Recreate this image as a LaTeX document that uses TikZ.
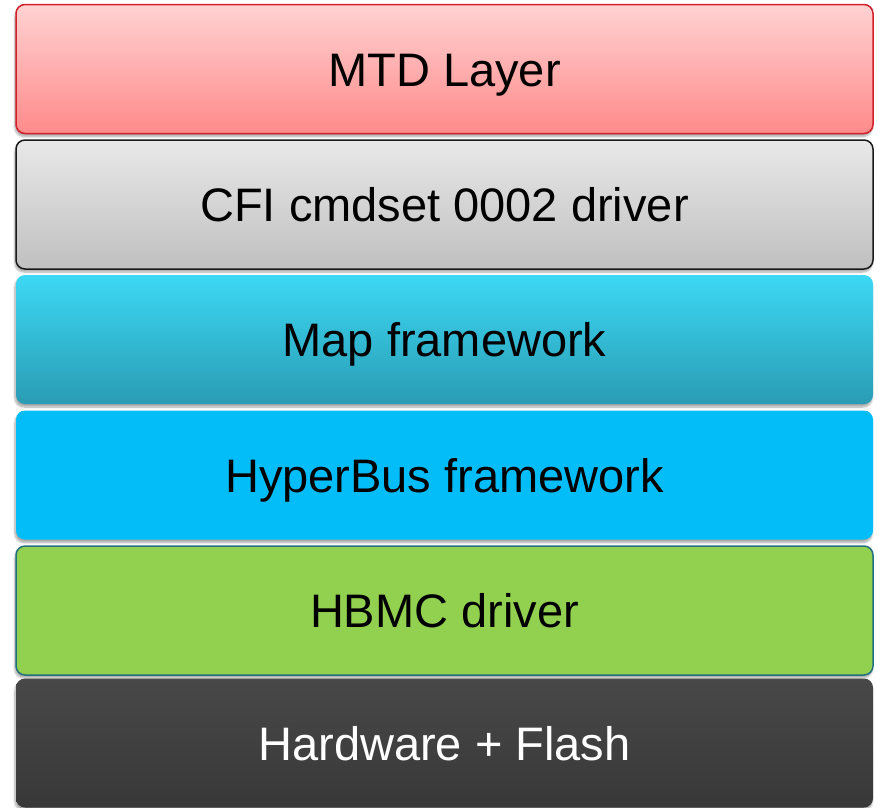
\documentclass[tikz,border=0pt]{standalone}
\usepackage{fontspec}
\setmainfont{Liberation Sans}
\usetikzlibrary{shadows.blur}
\definecolor{redTop}{HTML}{FFD2D2}
\definecolor{redBot}{HTML}{FF8A8A}
\definecolor{redLine}{HTML}{D0202A}
\definecolor{grayTop}{HTML}{E8E8E8}
\definecolor{grayBot}{HTML}{C0C0C0}
\definecolor{grayLine}{HTML}{1A1A1A}
\definecolor{cyanTop}{HTML}{3CD8F4}
\definecolor{cyanBot}{HTML}{2A9CB4}
\definecolor{blueFill}{HTML}{03BDF9}
\definecolor{greenFill}{HTML}{92D050}
\definecolor{greenLine}{HTML}{22707E}
\definecolor{darkTop}{HTML}{484848}
\definecolor{darkBot}{HTML}{383838}
\begin{document}
\begin{tikzpicture}[x=1pt,y=-1pt,
  layer/.style={rectangle, rounded corners=9pt, minimum width=857pt, minimum height=129pt,
    inner sep=0pt, text height=34pt, text depth=0pt,
    font=\fontsize{47}{52}\selectfont,
    blur shadow={shadow xshift=-1pt, shadow yshift=-3pt, shadow blur steps=6, shadow opacity=35}},
]
\useasboundingbox (0,0) rectangle (877,807);
\node[layer, top color=redTop, bottom color=redBot, draw=redLine, line width=1.5pt] (mtd) at (444.5,69) {MTD Layer};
\node[layer, top color=grayTop, bottom color=grayBot, draw=grayLine, line width=1.5pt] (cfi) at (444.5,204.5) {CFI cmdset 0002 driver};
\node[layer, top color=cyanTop, bottom color=cyanBot] (map) at (444.5,339.5) {Map framework};
\node[layer, fill=blueFill] (hbus) at (444.5,475) {HyperBus framework};
\node[layer, fill=greenFill, draw=greenLine, line width=1.5pt] (hbmc) at (444.5,610.5) {HBMC driver};
\node[layer, top color=darkTop, bottom color=darkBot, text=white] (hw) at (444.5,743) {Hardware + Flash};
\end{tikzpicture}
\end{document}
